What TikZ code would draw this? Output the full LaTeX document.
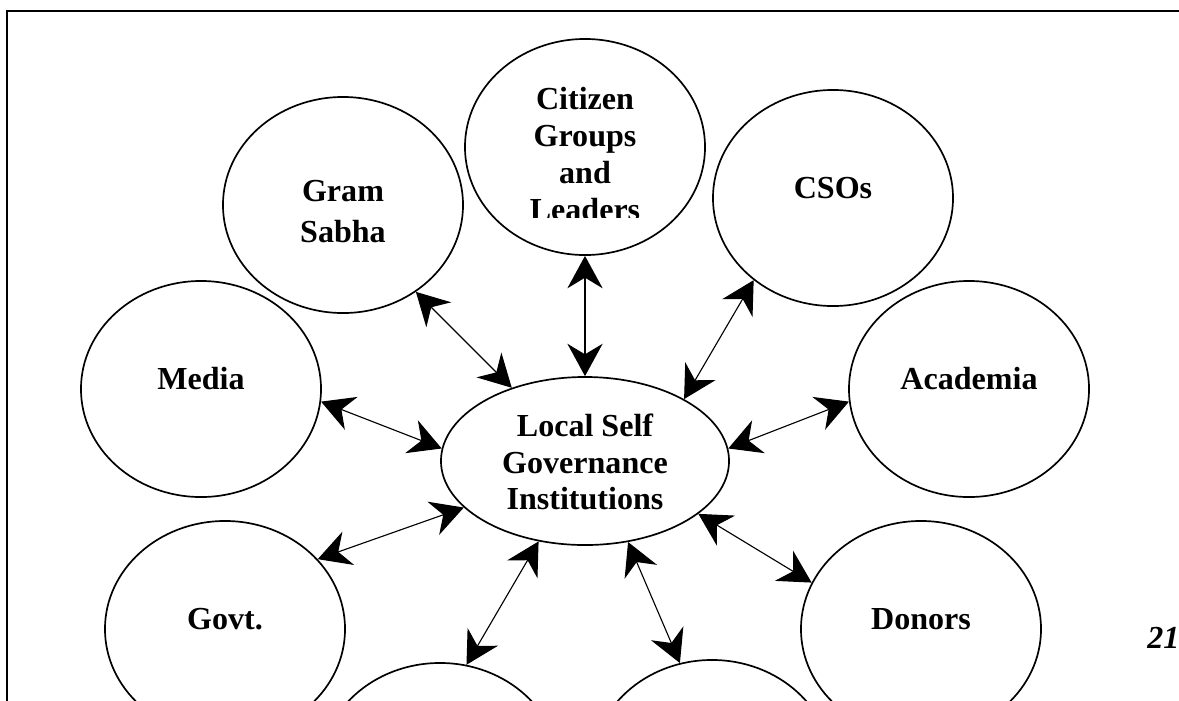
\documentclass[tikz,border=0pt]{standalone}
\usepackage{fontspec}
\setmainfont{Liberation Serif}
\usetikzlibrary{shapes.geometric,arrows.meta}

\begin{document}
\begin{tikzpicture}[x=0.025cm, y=-0.025cm,
  party/.style={draw, ellipse, line width=1.2pt, minimum width=6cm, minimum height=5.4cm, inner sep=0pt},
  hub/.style={party, minimum width=7.2cm, minimum height=4.2cm},
  tag/.style={inner sep=0pt, align=center, font=\fontsize{22.8}{26.2}\selectfont\bfseries},
  link/.style={{Stealth[length=23pt, width=25pt, inset=7.5pt]}-{Stealth[length=23pt, width=25pt, inset=7.5pt]}, line width=0.8pt}
]
\useasboundingbox (0,0) rectangle (1179,700);
\draw[line width=1.6pt] (7,11) rectangle (1220,740);
\node[hub] (lsg) at (585,461) {};
\node[party] (gram) at (343,205) {};
\node[party] (citizen) at (585,147) {};
\node[party] (csos) at (833,198) {};
\node[party] (media) at (201,389) {};
\node[party] (academia) at (969,389) {};
\node[party] (govt) at (225,629) {};
\node[party] (donors) at (921,629) {};
\node[party] (lowleft) at (440,771) {};
\node[party] (lowright) at (712,768) {};
\node[tag, anchor=north, font=\fontsize{22.8}{26}\selectfont\bfseries] (lsgtext) at (585,414) {Local Self\\Governance\\Institutions};
\node[tag, anchor=north, font=\fontsize{22.8}{29.2}\selectfont\bfseries] (gramtext) at (343,180) {Gram\\Sabha};
\begin{scope}
\clip (450,20) rectangle (720,217);
\node[tag, anchor=north, font=\fontsize{22.8}{26.3}\selectfont\bfseries] (citizentext) at (585,87) {Citizen\\Groups\\and\\Leaders};
\end{scope}
\node[tag, anchor=base] (csostext) at (833,198) {CSOs};
\node[tag, anchor=base] (mediatext) at (201,389) {Media};
\node[tag, anchor=base] (academiatext) at (969,389) {Academia};
\node[tag, anchor=base] (govttext) at (225,629) {Govt.};
\node[tag, anchor=base] (donorstext) at (921,629) {Donors};
\node[tag, font=\fontsize{22.8}{26.2}\selectfont\bfseries\itshape, anchor=base west] (page) at (1147,648) {21};
\draw[link] (lsg.135) -- (gram.-50);
\draw[link, line width=1.5pt] (lsg.90) -- (citizen.-90);
\draw[link] (lsg.32) -- (csos.-134);
\draw[link] (lsg.175) -- (media.-6);
\draw[link] (lsg.5) -- (academia.186);
\draw[link] (lsg.201) -- (govt.37);
\draw[link] (lsg.-25) -- (donors.157);
\draw[link] (lsg.-120) -- (lowleft.76);
\draw[link] (lsg.-62) -- (lowright.107);
\end{tikzpicture}
\end{document}
